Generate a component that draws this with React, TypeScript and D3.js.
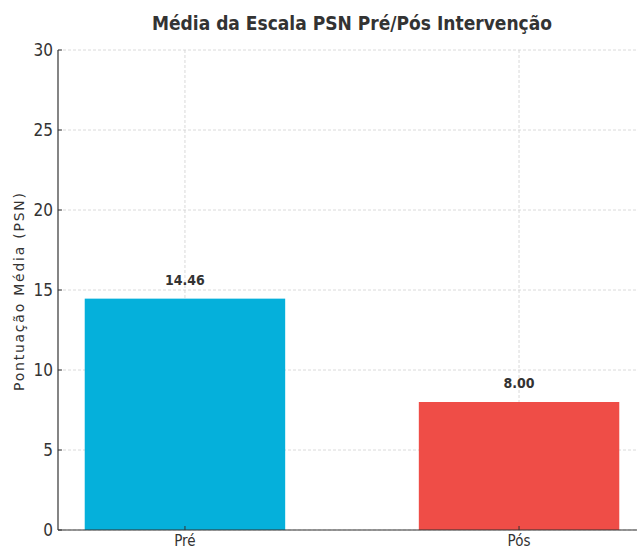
import React from "react";
import * as d3 from "d3";

const categories = ["Pré", "Pós"];
const values = [14.46, 8.0];
const colors = ["#05B0DB", "#EF4D47"];
const yTicks = [0, 5, 10, 15, 20, 25, 30];

const W = 637;
const H = 550;
const font = "'DejaVu Sans Condensed', 'DejaVu Sans', sans-serif";

const App: React.FC = () => {
    // axes frame (right side runs past the picture edge, as in the reference)
    const left = 58;
    const right = 646;
    const top = 50;
    const bottom = 530;

    const x = d3.scaleLinear().domain([-0.38, 1.38]).range([left, right]);
    const y = d3.scaleLinear().domain([0, 30]).range([bottom, top]);
    const barW = x(0.6) - x(0);

    return (
        <svg width={W} height={H} style={{ position: "absolute", left: 0, top: 0 }}>
            <rect width={W} height={H} fill="#fff" />
            {/* grid */}
            {yTicks.map((t) => (
                <line key={"gy" + t} x1={left} x2={right} y1={y(t)} y2={y(t)}
                    stroke="#d0d0d0" strokeWidth={0.8} strokeDasharray="3,2" />
            ))}
            {categories.map((c, i) => (
                <line key={"gx" + c} x1={x(i)} x2={x(i)} y1={top} y2={bottom}
                    stroke="#d0d0d0" strokeWidth={0.8} strokeDasharray="3,2" />
            ))}
            {/* bars */}
            {values.map((v, i) => (
                <rect key={categories[i]} x={x(i) - barW / 2} y={y(v)} width={barW}
                    height={y(0) - y(v)} fill={colors[i]} />
            ))}
            {/* value labels */}
            {values.map((v, i) => (
                <text key={"v" + i} x={x(i)} y={y(v) - 14} textAnchor="middle"
                    fontFamily={font} fontWeight="bold" fontSize={14} fill="#333">
                    {v.toFixed(2)}
                </text>
            ))}
            {/* spines */}
            <line x1={left} x2={left} y1={top} y2={bottom} stroke="#333" strokeWidth={1.2} />
            <line x1={left} x2={right} y1={bottom} y2={bottom} stroke="#333" strokeWidth={1.2} />
            {/* y ticks */}
            {yTicks.map((t) => (
                <g key={"yt" + t}>
                    <line x1={left} x2={left + 4} y1={y(t)} y2={y(t)} stroke="#333" strokeWidth={1} />
                    <text x={left - 5} y={y(t)} dy="0.36em" textAnchor="end"
                        fontFamily={font} fontSize={17} fill="#333">{t}</text>
                </g>
            ))}
            {/* x ticks */}
            {categories.map((c, i) => (
                <g key={"xt" + c}>
                    <line x1={x(i)} x2={x(i)} y1={bottom} y2={bottom - 4} stroke="#333" strokeWidth={1} />
                    <text x={x(i)} y={546} textAnchor="middle"
                        fontFamily={font} fontSize={15} fill="#333">{c}</text>
                </g>
            ))}
            {/* y label */}
            <text transform="translate(24,292) rotate(-90)" textAnchor="middle"
                fontFamily="'DejaVu Sans', sans-serif" fontSize={14} textLength={198}
                lengthAdjust="spacing" fill="#333">
                Pontuação Média (PSN)
            </text>
            {/* title */}
            <text x={(left + right) / 2} y={30} textAnchor="middle" fontFamily={font} fontWeight="bold"
                fontSize={19} fill="#333">
                Média da Escala PSN Pré/Pós Intervenção
            </text>
        </svg>
    );
};

export default App;
